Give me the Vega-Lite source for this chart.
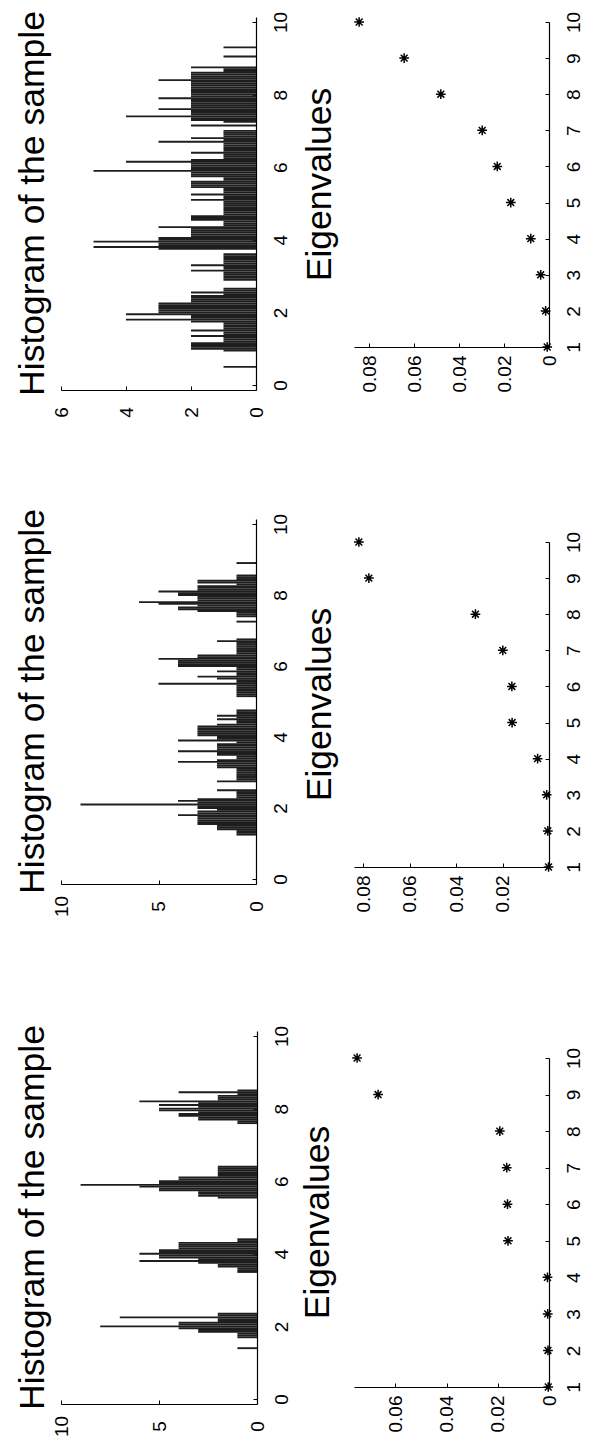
{
 "$schema": "https://vega.github.io/schema/vega-lite/v6.json",
 "background": "white",
 "padding": {"left": 15, "top": 0, "right": 0, "bottom": 0},
 "datasets": {
  "h3": [{"b":0.50,"c":1},{"b":0.95,"c":1},{"b":1.00,"c":2},{"b":1.05,"c":2},{"b":1.10,"c":2},{"b":1.15,"c":2},{"b":1.20,"c":1},{"b":1.25,"c":1},{"b":1.30,"c":1},{"b":1.35,"c":2},{"b":1.40,"c":1},{"b":1.45,"c":1},{"b":1.50,"c":2},{"b":1.55,"c":1},{"b":1.60,"c":1},{"b":1.65,"c":1},{"b":1.70,"c":1},{"b":1.75,"c":2},{"b":1.80,"c":4},{"b":1.85,"c":2},{"b":1.90,"c":2},{"b":1.95,"c":4},{"b":2.00,"c":3},{"b":2.05,"c":3},{"b":2.10,"c":3},{"b":2.15,"c":3},{"b":2.20,"c":3},{"b":2.25,"c":3},{"b":2.30,"c":2},{"b":2.35,"c":2},{"b":2.40,"c":2},{"b":2.45,"c":2},{"b":2.50,"c":1},{"b":2.55,"c":2},{"b":2.60,"c":1},{"b":2.65,"c":1},{"b":2.90,"c":1},{"b":2.95,"c":1},{"b":3.00,"c":1},{"b":3.05,"c":1},{"b":3.10,"c":1},{"b":3.15,"c":2},{"b":3.20,"c":1},{"b":3.25,"c":1},{"b":3.30,"c":2},{"b":3.35,"c":1},{"b":3.40,"c":1},{"b":3.45,"c":1},{"b":3.50,"c":1},{"b":3.55,"c":1},{"b":3.60,"c":1},{"b":3.75,"c":3},{"b":3.80,"c":5},{"b":3.85,"c":3},{"b":3.90,"c":3},{"b":3.95,"c":5},{"b":4.00,"c":3},{"b":4.05,"c":3},{"b":4.10,"c":2},{"b":4.15,"c":2},{"b":4.20,"c":2},{"b":4.25,"c":2},{"b":4.30,"c":2},{"b":4.35,"c":3},{"b":4.40,"c":1},{"b":4.45,"c":1},{"b":4.50,"c":1},{"b":4.55,"c":2},{"b":4.60,"c":2},{"b":4.65,"c":2},{"b":4.70,"c":1},{"b":4.75,"c":1},{"b":4.80,"c":1},{"b":4.85,"c":1},{"b":4.90,"c":1},{"b":4.95,"c":1},{"b":5.00,"c":1},{"b":5.05,"c":1},{"b":5.10,"c":2},{"b":5.15,"c":1},{"b":5.20,"c":1},{"b":5.25,"c":2},{"b":5.30,"c":1},{"b":5.35,"c":1},{"b":5.40,"c":1},{"b":5.45,"c":2},{"b":5.50,"c":2},{"b":5.55,"c":2},{"b":5.60,"c":2},{"b":5.65,"c":1},{"b":5.70,"c":1},{"b":5.75,"c":2},{"b":5.80,"c":2},{"b":5.85,"c":2},{"b":5.90,"c":5},{"b":5.95,"c":2},{"b":6.00,"c":2},{"b":6.05,"c":2},{"b":6.10,"c":2},{"b":6.15,"c":4},{"b":6.20,"c":2},{"b":6.25,"c":1},{"b":6.30,"c":1},{"b":6.35,"c":1},{"b":6.40,"c":2},{"b":6.45,"c":1},{"b":6.50,"c":1},{"b":6.55,"c":1},{"b":6.60,"c":1},{"b":6.65,"c":1},{"b":6.70,"c":3},{"b":6.75,"c":1},{"b":6.80,"c":2},{"b":6.85,"c":1},{"b":6.90,"c":1},{"b":6.95,"c":1},{"b":7.00,"c":1},{"b":7.15,"c":2},{"b":7.25,"c":1},{"b":7.30,"c":2},{"b":7.35,"c":2},{"b":7.40,"c":4},{"b":7.45,"c":2},{"b":7.50,"c":2},{"b":7.55,"c":2},{"b":7.60,"c":3},{"b":7.65,"c":2},{"b":7.70,"c":2},{"b":7.75,"c":2},{"b":7.80,"c":2},{"b":7.85,"c":2},{"b":7.90,"c":3},{"b":7.95,"c":2},{"b":8.00,"c":2},{"b":8.05,"c":2},{"b":8.10,"c":2},{"b":8.15,"c":2},{"b":8.20,"c":2},{"b":8.25,"c":2},{"b":8.30,"c":2},{"b":8.35,"c":2},{"b":8.40,"c":3},{"b":8.45,"c":2},{"b":8.50,"c":2},{"b":8.55,"c":2},{"b":8.60,"c":2},{"b":8.65,"c":1},{"b":8.70,"c":1},{"b":8.75,"c":2},{"b":9.05,"c":1},{"b":9.30,"c":1}],
  "h2": [{"b":1.25,"c":1},{"b":1.30,"c":1},{"b":1.35,"c":1},{"b":1.40,"c":2},{"b":1.45,"c":2},{"b":1.50,"c":2},{"b":1.55,"c":3},{"b":1.60,"c":3},{"b":1.65,"c":3},{"b":1.70,"c":3},{"b":1.75,"c":3},{"b":1.80,"c":4},{"b":1.85,"c":3},{"b":1.90,"c":3},{"b":1.95,"c":2},{"b":2.00,"c":3},{"b":2.05,"c":3},{"b":2.10,"c":9},{"b":2.15,"c":3},{"b":2.20,"c":4},{"b":2.25,"c":3},{"b":2.30,"c":1},{"b":2.35,"c":1},{"b":2.40,"c":1},{"b":2.45,"c":1},{"b":2.50,"c":2},{"b":2.75,"c":2},{"b":2.80,"c":1},{"b":2.85,"c":1},{"b":2.90,"c":1},{"b":2.95,"c":1},{"b":3.00,"c":1},{"b":3.05,"c":1},{"b":3.10,"c":1},{"b":3.15,"c":2},{"b":3.20,"c":2},{"b":3.25,"c":2},{"b":3.30,"c":4},{"b":3.35,"c":2},{"b":3.40,"c":1},{"b":3.45,"c":1},{"b":3.50,"c":2},{"b":3.55,"c":2},{"b":3.60,"c":4},{"b":3.65,"c":2},{"b":3.70,"c":2},{"b":3.75,"c":2},{"b":3.80,"c":2},{"b":3.85,"c":1},{"b":3.90,"c":4},{"b":3.95,"c":2},{"b":4.00,"c":2},{"b":4.05,"c":3},{"b":4.10,"c":3},{"b":4.15,"c":3},{"b":4.20,"c":3},{"b":4.25,"c":3},{"b":4.30,"c":3},{"b":4.35,"c":2},{"b":4.40,"c":1},{"b":4.45,"c":1},{"b":4.50,"c":2},{"b":4.55,"c":1},{"b":4.60,"c":2},{"b":4.65,"c":1},{"b":4.70,"c":1},{"b":4.75,"c":1},{"b":5.15,"c":1},{"b":5.20,"c":1},{"b":5.25,"c":1},{"b":5.30,"c":1},{"b":5.35,"c":1},{"b":5.40,"c":1},{"b":5.45,"c":1},{"b":5.50,"c":5},{"b":5.55,"c":1},{"b":5.60,"c":1},{"b":5.65,"c":2},{"b":5.70,"c":3},{"b":5.75,"c":1},{"b":5.80,"c":1},{"b":5.85,"c":2},{"b":5.90,"c":1},{"b":5.95,"c":1},{"b":6.00,"c":4},{"b":6.05,"c":4},{"b":6.10,"c":4},{"b":6.15,"c":4},{"b":6.20,"c":5},{"b":6.25,"c":3},{"b":6.30,"c":3},{"b":6.35,"c":1},{"b":6.40,"c":1},{"b":6.45,"c":1},{"b":6.50,"c":1},{"b":6.55,"c":1},{"b":6.60,"c":1},{"b":6.65,"c":1},{"b":6.70,"c":2},{"b":6.75,"c":1},{"b":7.25,"c":1},{"b":7.40,"c":1},{"b":7.45,"c":1},{"b":7.50,"c":1},{"b":7.55,"c":3},{"b":7.60,"c":4},{"b":7.65,"c":4},{"b":7.70,"c":3},{"b":7.75,"c":5},{"b":7.80,"c":6},{"b":7.85,"c":3},{"b":7.90,"c":3},{"b":7.95,"c":3},{"b":8.00,"c":4},{"b":8.05,"c":4},{"b":8.10,"c":5},{"b":8.15,"c":3},{"b":8.20,"c":3},{"b":8.25,"c":3},{"b":8.30,"c":1},{"b":8.35,"c":3},{"b":8.40,"c":3},{"b":8.45,"c":1},{"b":8.50,"c":1},{"b":8.55,"c":1},{"b":8.90,"c":1}],
  "h1": [{"b":1.40,"c":1},{"b":1.70,"c":1},{"b":1.75,"c":1},{"b":1.80,"c":1},{"b":1.85,"c":3},{"b":1.90,"c":3},{"b":1.95,"c":4},{"b":2.00,"c":8},{"b":2.05,"c":4},{"b":2.10,"c":4},{"b":2.15,"c":2},{"b":2.20,"c":2},{"b":2.25,"c":7},{"b":2.30,"c":2},{"b":2.35,"c":2},{"b":3.50,"c":1},{"b":3.55,"c":1},{"b":3.60,"c":1},{"b":3.65,"c":2},{"b":3.70,"c":2},{"b":3.75,"c":3},{"b":3.80,"c":6},{"b":3.85,"c":3},{"b":3.90,"c":5},{"b":3.95,"c":5},{"b":4.00,"c":6},{"b":4.05,"c":5},{"b":4.10,"c":5},{"b":4.15,"c":4},{"b":4.20,"c":4},{"b":4.25,"c":4},{"b":4.30,"c":4},{"b":4.35,"c":1},{"b":4.40,"c":1},{"b":5.55,"c":2},{"b":5.60,"c":3},{"b":5.65,"c":3},{"b":5.70,"c":3},{"b":5.75,"c":5},{"b":5.80,"c":5},{"b":5.85,"c":6},{"b":5.90,"c":9},{"b":5.95,"c":5},{"b":6.00,"c":5},{"b":6.05,"c":4},{"b":6.10,"c":4},{"b":6.15,"c":2},{"b":6.20,"c":2},{"b":6.25,"c":2},{"b":6.30,"c":2},{"b":6.35,"c":2},{"b":6.40,"c":2},{"b":7.60,"c":1},{"b":7.65,"c":1},{"b":7.70,"c":3},{"b":7.75,"c":3},{"b":7.80,"c":4},{"b":7.85,"c":4},{"b":7.90,"c":3},{"b":7.95,"c":5},{"b":8.00,"c":5},{"b":8.05,"c":3},{"b":8.10,"c":5},{"b":8.15,"c":3},{"b":8.20,"c":6},{"b":8.25,"c":2},{"b":8.30,"c":2},{"b":8.35,"c":2},{"b":8.40,"c":1},{"b":8.45,"c":4},{"b":8.50,"c":1}],
  "e3": [{"k":1,"v":0.0008},{"k":2,"v":0.0015},{"k":3,"v":0.0037},{"k":4,"v":0.0081},{"k":5,"v":0.017},{"k":6,"v":0.023},{"k":7,"v":0.0297},{"k":8,"v":0.0481},{"k":9,"v":0.0644},{"k":10,"v":0.0844}],
  "e2": [{"k":1,"v":0.0002},{"k":2,"v":0.0005},{"k":3,"v":0.001},{"k":4,"v":0.0049},{"k":5,"v":0.0159},{"k":6,"v":0.016},{"k":7,"v":0.0199},{"k":8,"v":0.0317},{"k":9,"v":0.0776},{"k":10,"v":0.0819}],
  "e1": [{"k":1,"v":0.0003},{"k":2,"v":0.0004},{"k":3,"v":0.0005},{"k":4,"v":0.0006},{"k":5,"v":0.016},{"k":6,"v":0.0162},{"k":7,"v":0.0165},{"k":8,"v":0.0192},{"k":9,"v":0.0667},{"k":10,"v":0.0749}]
 },
 "hconcat": [
  {
   "bounds": "flush",
   "spacing": 0,
   "vconcat": [
    {"width": 195, "height": 17, "data": {"values": []}, "mark": "point", "encoding": {}},
    {
     "width": 195, "height": 373,
     "data": {"name": "h3"},
     "title": {"text": "Histogram of the sample", "orient": "left", "frame": "group", "offset": -27, "baseline": "alphabetic"},
     "mark": {"type": "bar", "orient": "horizontal", "size": 1.9, "color": "#1e1e1e"},
     "encoding": {
      "y": {"field": "b", "type": "quantitative", "scale": {"domain": [0, 10], "nice": false, "zero": false}, "axis": {"orient": "right", "values": [0, 2, 4, 6, 8, 10], "title": null, "labelAlign": "center", "labelBaseline": "top", "labelPadding": 19}},
      "x": {"field": "c", "type": "quantitative", "scale": {"domain": [0, 6], "reverse": true, "nice": false}, "axis": {"orient": "bottom", "values": [0, 2, 4, 6], "title": null, "labelAlign": "center", "labelBaseline": "middle", "labelPadding": 26}}
     }
    },
    {"width": 195, "height": 129, "data": {"values": []}, "mark": "point", "encoding": {}},
    {
     "width": 195, "height": 365,
     "data": {"name": "h2"},
     "title": {"text": "Histogram of the sample", "orient": "left", "frame": "group", "offset": -27, "baseline": "alphabetic"},
     "mark": {"type": "bar", "orient": "horizontal", "size": 1.9, "color": "#1e1e1e"},
     "encoding": {
      "y": {"field": "b", "type": "quantitative", "scale": {"domain": [0, 10], "nice": false, "zero": false}, "axis": {"orient": "right", "values": [0, 2, 4, 6, 8, 10], "title": null, "labelAlign": "center", "labelBaseline": "top", "labelPadding": 19}},
      "x": {"field": "c", "type": "quantitative", "scale": {"domain": [0, 10], "reverse": true, "nice": false}, "axis": {"orient": "bottom", "values": [0, 5, 10], "title": null, "labelAlign": "center", "labelBaseline": "middle", "labelPadding": 26}}
     }
    },
    {"width": 195, "height": 147, "data": {"values": []}, "mark": "point", "encoding": {}},
    {
     "width": 196, "height": 373,
     "data": {"name": "h1"},
     "title": {"text": "Histogram of the sample", "orient": "left", "frame": "group", "offset": -27, "baseline": "alphabetic"},
     "mark": {"type": "bar", "orient": "horizontal", "size": 1.9, "color": "#1e1e1e"},
     "encoding": {
      "y": {"field": "b", "type": "quantitative", "scale": {"domain": [0, 10], "nice": false, "zero": false}, "axis": {"orient": "right", "values": [0, 2, 4, 6, 8, 10], "title": null, "labelAlign": "center", "labelBaseline": "top", "labelPadding": 19}},
      "x": {"field": "c", "type": "quantitative", "scale": {"domain": [0, 10], "reverse": true, "nice": false}, "axis": {"orient": "bottom", "values": [0, 5, 10], "title": null, "labelAlign": "center", "labelBaseline": "middle", "labelPadding": 26}}
     }
    }
   ]
  },
  {
   "bounds": "flush",
   "spacing": 0,
   "vconcat": [
    {"width": 195, "height": 22, "data": {"values": []}, "mark": "point", "encoding": {}},
    {
     "width": 195, "height": 325,
     "data": {"name": "e3"},
     "title": {"text": "Eigenvalues", "orient": "left", "frame": "group", "offset": -15, "baseline": "alphabetic"},
     "mark": {"type": "point", "shape": "M-1,0L1,0M0,-1L0,1M-0.7,-0.7L0.7,0.7M-0.7,0.7L0.7,-0.7", "filled": false, "stroke": "black", "strokeWidth": 1.5, "size": 95, "opacity": 1},
     "encoding": {
      "y": {"field": "k", "type": "quantitative", "scale": {"domain": [1, 10], "nice": false, "zero": false}, "axis": {"orient": "right", "values": [1, 2, 3, 4, 5, 6, 7, 8, 9, 10], "title": null, "labelAlign": "center", "labelBaseline": "top", "labelPadding": 19}},
      "x": {"field": "v", "type": "quantitative", "scale": {"domain": [0, 0.0867], "reverse": true, "nice": false}, "axis": {"orient": "bottom", "values": [0, 0.02, 0.04, 0.06, 0.08], "labelExpr": "datum.value == 0 ? '0' : format(datum.value, '.2f')", "title": null, "labelAlign": "right", "labelBaseline": "middle", "labelPadding": 12}}
     }
    },
    {"width": 195, "height": 195, "data": {"values": []}, "mark": "point", "encoding": {}},
    {
     "width": 195, "height": 325,
     "data": {"name": "e2"},
     "title": {"text": "Eigenvalues", "orient": "left", "frame": "group", "offset": -15, "baseline": "alphabetic"},
     "mark": {"type": "point", "shape": "M-1,0L1,0M0,-1L0,1M-0.7,-0.7L0.7,0.7M-0.7,0.7L0.7,-0.7", "filled": false, "stroke": "black", "strokeWidth": 1.5, "size": 95, "opacity": 1},
     "encoding": {
      "y": {"field": "k", "type": "quantitative", "scale": {"domain": [1, 10], "nice": false, "zero": false}, "axis": {"orient": "right", "values": [1, 2, 3, 4, 5, 6, 7, 8, 9, 10], "title": null, "labelAlign": "center", "labelBaseline": "top", "labelPadding": 19}},
      "x": {"field": "v", "type": "quantitative", "scale": {"domain": [0, 0.084], "reverse": true, "nice": false}, "axis": {"orient": "bottom", "values": [0.02, 0.04, 0.06, 0.08], "labelExpr": "format(datum.value, '.2f')", "title": null, "labelAlign": "right", "labelBaseline": "middle", "labelPadding": 12}}
     }
    },
    {"width": 195, "height": 191, "data": {"values": []}, "mark": "point", "encoding": {}},
    {
     "width": 195, "height": 329,
     "data": {"name": "e1"},
     "title": {"text": "Eigenvalues", "orient": "left", "frame": "group", "offset": -15, "baseline": "alphabetic"},
     "mark": {"type": "point", "shape": "M-1,0L1,0M0,-1L0,1M-0.7,-0.7L0.7,0.7M-0.7,0.7L0.7,-0.7", "filled": false, "stroke": "black", "strokeWidth": 1.5, "size": 95, "opacity": 1},
     "encoding": {
      "y": {"field": "k", "type": "quantitative", "scale": {"domain": [1, 10], "nice": false, "zero": false}, "axis": {"orient": "right", "values": [1, 2, 3, 4, 5, 6, 7, 8, 9, 10], "title": null, "labelAlign": "center", "labelBaseline": "top", "labelPadding": 19}},
      "x": {"field": "v", "type": "quantitative", "scale": {"domain": [0, 0.0761], "reverse": true, "nice": false}, "axis": {"orient": "bottom", "values": [0, 0.02, 0.04, 0.06], "labelExpr": "datum.value == 0 ? '0' : format(datum.value, '.2f')", "title": null, "labelAlign": "right", "labelBaseline": "middle", "labelPadding": 12}}
     }
    }
   ]
  }
 ],
 "spacing": 9,
 "config": {
  "font": "Liberation Sans",
  "view": {"stroke": null},
  "title": {"font": "Liberation Sans", "fontSize": 35.5, "fontWeight": "normal", "color": "black"},
  "axis": {"grid": false, "labelAngle": -90, "labelFont": "Liberation Sans", "labelFontSize": 19, "labelColor": "black", "domainColor": "black", "domainWidth": 1.2, "tickColor": "black", "tickSize": -4, "tickWidth": 1, "labelOverlap": false, "labelFlush": false, "labelBound": false}
 }
}
